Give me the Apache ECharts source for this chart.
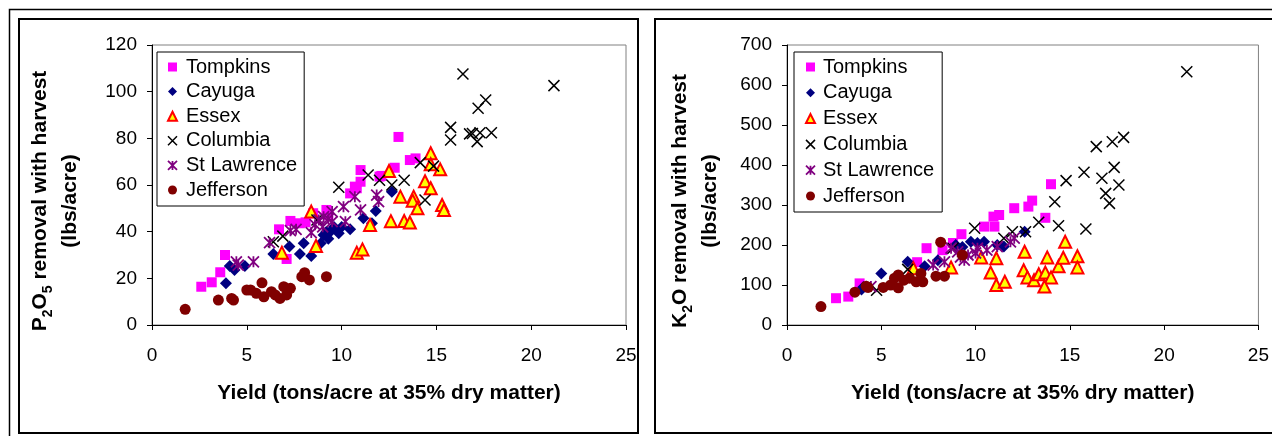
<!DOCTYPE html>
<html>
<head>
<meta charset="utf-8">
<script src="https://cdn.jsdelivr.net/npm/echarts@6/dist/echarts.min.js"></script>
</head>
<body style="margin: 0; background: #fff">
<div id="container" style="width: 1272px; height: 436px"></div>
<script>
// yield (tons/acre at 35% DM) vs P2O5 removal (lbs/acre)
var tompkinsP = [[2.6,16.4],[3.15,18.3],[3.6,22.6],[3.85,30],[6.7,41],[7.1,28.3],[7.3,44.6],[7.8,43.6],[8.1,44],[8.5,47.9],[9.2,49.3],[9.3,47],[10.45,56.4],[10.8,58.6],[11.0,61.4],[11.0,66.4],[10.7,59.3],[12.0,63.6],[12.1,63.9],[12.8,67.4],[13.0,80.6],[13.6,70.7],[13.9,71.4]];
var cayugaP = [[3.9,17.9],[4.1,25.3],[4.35,23.6],[4.9,25.3],[6.4,30.4],[7.25,33.6],[7.8,30.4],[8.0,35],[8.4,29.6],[8.9,35],[9.05,38.6],[9.2,40],[9.3,37],[9.4,40],[9.6,42],[9.85,39.3],[10.0,42],[10.45,41],[11.15,45.7],[11.6,43.6],[11.8,48.9],[12.65,57.1]];
var essexP = [[6.85,31],[8.4,48.6],[8.65,33.9],[10.8,31],[11.1,32.4],[11.5,42.9],[12.6,44.5],[12.5,66],[13.1,55],[13.3,44.6],[13.6,43.9],[13.8,55],[13.75,53.3],[14.0,50],[14.4,61.6],[14.7,58.6],[14.7,73.6],[14.7,68.9],[15.2,66.7],[15.3,51.4],[15.4,49.3]];
var columbiaP = [[6.4,35.7],[6.9,38.1],[8.7,45],[9.85,59],[11.4,64.3],[12.0,62],[12.65,60],[13.3,62],[14.15,69.6],[14.85,68.1],[14.4,53.6],[15.75,84.7],[15.75,79.3],[16.4,107.6],[16.75,81.9],[16.9,82.1],[17.15,78.6],[17.3,82.4],[17.2,92.9],[17.6,96.4],[17.9,82.4],[21.2,102.6]];
var stlawrenceP = [[4.45,27.1],[4.55,25.7],[5.35,27.1],[6.2,35.3],[7.3,40.4],[7.6,41],[8.4,39.6],[8.6,43],[8.8,45],[9.0,42.1],[9.05,46.4],[9.3,45.5],[9.5,48.6],[9.5,44.3],[10.1,50.7],[10.2,44.3],[10.7,55],[11.0,49.3],[11.85,55.7],[11.95,52.9]];
var jeffersonP = [[1.75,6.7],[3.5,10.7],[4.2,11.4],[4.3,10.7],[5.0,15],[5.2,15],[5.5,13.6],[5.8,18.1],[5.9,12.1],[6.3,14.3],[6.5,12.9],[6.75,11.4],[6.95,16.4],[7.1,12.9],[7.3,15.7],[7.9,20.7],[8.05,22.4],[8.3,19.3],[9.2,20.7]];

// yield vs K2O removal (lbs/acre)
var tompkinsK = [[2.6,67],[3.25,71],[3.85,104],[6.9,157],[7.4,192],[8.25,187],[8.8,205],[9.25,227],[10.45,246],[10.95,271],[11.0,246],[11.25,275],[12.05,292],[12.8,296],[13.0,311],[13.7,268],[14.0,352]];
var cayugaK = [[3.95,89],[4.05,95],[5.0,129],[6.4,158],[7.3,147],[8.0,162],[8.95,200],[9.3,195],[9.75,208],[10.1,205],[10.45,208],[11.15,200],[11.5,196],[12.6,233]];
var essexK = [[6.7,142],[8.7,144],[10.3,169],[11.1,167],[10.8,131],[11.1,100],[11.55,108],[12.55,137],[12.6,183],[12.75,119],[13.1,112],[13.35,127],[13.7,131],[14.0,119],[13.65,96],[13.8,169],[14.4,147],[14.65,168],[14.75,208],[15.4,172],[15.4,144]];
var columbiaK = [[4.75,87],[6.4,139],[8.8,192],[9.95,242],[11.5,217],[11.95,233],[12.65,233],[13.35,257],[14.2,308],[14.4,248],[14.8,361],[15.85,240],[15.75,382],[16.4,446],[16.7,367],[16.9,329],[17.1,304],[17.25,458],[17.35,394],[17.6,350],[17.85,469],[21.2,633]];
var stlawrenceK = [[4.45,96],[7.75,150],[8.35,158],[8.7,192],[9.05,183],[9.2,170],[9.4,162],[9.6,175],[10.0,180],[10.1,192],[10.6,187],[11.15,196],[11.85,208],[12.05,217]];
var jeffersonK = [[1.8,46],[3.6,82],[4.2,97],[4.3,94],[5.1,94],[5.5,100],[5.7,117],[5.9,93],[5.9,125],[6.2,112],[6.5,117],[6.85,108],[7.1,129],[7.2,108],[7.9,122],[8.35,122],[8.15,207],[9.3,175]];

var names = ['Tompkins', 'Cayuga', 'Essex', 'Columbia', 'St Lawrence', 'Jefferson'];
var xTicks = [0, 25, 5];
var pTicks = [0, 120, 20];
var kTicks = [0, 700, 100];
var xTitle = 'Yield (tons/acre at 35% dry matter)';

var FONT = '"Liberation Sans", Arial, sans-serif';
var crossPath = 'path://M0,0L10,10M10,0L0,10';
var starPath = 'path://M0,0L10,10M10,0L0,10M5,0L5,10';

// marker look per county
var looks = {
	'Tompkins': { symbol: 'rect', size: 10, style: { color: '#ff00ff', opacity: 1 } },
	'Cayuga': { symbol: 'diamond', size: 12, style: { color: '#000080', opacity: 1 } },
	'Essex': { symbol: 'triangle', size: 12, style: { color: '#ffff00', borderColor: '#ff0000', borderWidth: 2, opacity: 1 } },
	'Columbia': { symbol: crossPath, size: 11, style: { color: 'transparent', borderColor: '#000000', borderWidth: 1.5, opacity: 1 } },
	'St Lawrence': { symbol: starPath, size: 11, style: { color: 'transparent', borderColor: '#800080', borderWidth: 1.8, opacity: 1 } },
	'Jefferson': { symbol: 'circle', size: 11, style: { color: '#800000', opacity: 1 } }
};

var dataP = [tompkinsP, cayugaP, essexP, columbiaP, stlawrenceP, jeffersonP];
var dataK = [tompkinsK, cayugaK, essexK, columbiaK, stlawrenceK, jeffersonK];

var series = [];
for (var g = 0; g < 2; g++) {
	var src = g == 0 ? dataP : dataK;
	for (var i = 0; i < names.length; i++) {
		var lk = looks[names[i]];
		series.push({
			name: names[i],
			type: 'scatter',
			xAxisIndex: g,
			yAxisIndex: g,
			symbol: lk.symbol,
			symbolSize: lk.size,
			itemStyle: lk.style,
			data: src[i]
		});
	}
}

function legendData() {
	return names.map(function (n) {
		var lk = looks[n];
		return { name: n, icon: lk.symbol, itemStyle: lk.style };
	});
}

function makeLegend(left, gap, pad, tpad) {
	return {
		orient: 'vertical',
		left: left,
		top: 52,
		data: legendData(),
		itemWidth: 9,
		itemHeight: 9,
		itemGap: gap,
		padding: pad,
		borderColor: '#000',
		borderWidth: 1,
		borderRadius: 0,
		backgroundColor: '#fff',
		selectedMode: false,
		textStyle: { fontFamily: FONT, fontSize: 20, color: '#000', lineHeight: 20, padding: [0, 0, 0, tpad] }
	};
}

function xAxisOf(g) {
	return {
		gridIndex: g,
		type: 'value',
		min: xTicks[0], max: xTicks[1], interval: xTicks[2],
		name: xTitle,
		nameLocation: 'middle',
		nameGap: 57,
		nameTextStyle: { fontFamily: FONT, fontSize: 21, fontWeight: 'bold', color: '#000', lineHeight: 22 },
		axisLine: { show: true, lineStyle: { color: '#000', width: 1 } },
		axisTick: { show: true, length: 5, lineStyle: { color: '#000' } },
		axisLabel: { margin: 21, fontFamily: FONT, fontSize: 19, color: '#000' },
		splitLine: { show: false }
	};
}

function yAxisOf(g, t) {
	return {
		gridIndex: g,
		type: 'value',
		min: t[0], max: t[1], interval: t[2],
		axisLine: { show: true, lineStyle: { color: '#000', width: 1 } },
		axisTick: { show: true, length: 5, lineStyle: { color: '#000' } },
		axisLabel: { margin: 15, fontFamily: FONT, fontSize: 19, color: '#000' },
		splitLine: { show: false }
	};
}

var richY = {
	b: { fontFamily: FONT, fontSize: 21, fontWeight: 'bold', lineHeight: 30, fill: '#000' },
	s: { fontFamily: FONT, fontSize: 14, fontWeight: 'bold', lineHeight: 20, verticalAlign: 'bottom', fill: '#000' }
};

function yTitle(x, sym, num) {
	return {
		type: 'text',
		x: x, y: 201,
		rotation: Math.PI / 2,
		silent: true,
		style: {
			text: '{b|' + sym + '}{s|' + num + '}{b|O' + (sym == 'P' ? '}{s|5}{b|' : '') + ' removal with harvest}\n{b|(lbs/acre)}',
			rich: richY,
			align: 'center',
			verticalAlign: 'middle',
			fill: '#000'
		}
	};
}

var dom = document.getElementById("container");
var myChart = echarts.init(dom, null, { renderer: 'canvas' });
var option = {
	animation: false,
	backgroundColor: '#fff',
	grid: [
		{ left: 152, right: 646, top: 45, bottom: 111, show: true, borderColor: '#808080', borderWidth: 1 },
		{ left: 787, right: 12, top: 45, bottom: 111, show: true, borderColor: '#808080', borderWidth: 1 }
	],
	xAxis: [xAxisOf(0), xAxisOf(1)],
	yAxis: [yAxisOf(0, pTicks), yAxisOf(1, kTicks)],
	legend: [makeLegend(157, 4.6, [5, 7, 6, 10], 4), makeLegend(794, 5.8, [5, 8, 6, 11], 3)],
	graphic: [
		{ type: 'rect', silent: true, shape: { x: 9.5, y: 9.5, width: 1400, height: 600 }, style: { fill: 'none', stroke: '#000', lineWidth: 1.5 } },
		{ type: 'rect', silent: true, shape: { x: 19, y: 19, width: 619, height: 414 }, style: { fill: 'none', stroke: '#000', lineWidth: 2 } },
		{ type: 'rect', silent: true, shape: { x: 655, y: 19, width: 700, height: 414 }, style: { fill: 'none', stroke: '#000', lineWidth: 2 } },
		yTitle(55, 'P', '2'),
		yTitle(695, 'K', '2')
	],
	series: series
};
myChart.setOption(option, true);
</script>
</body>
</html>
